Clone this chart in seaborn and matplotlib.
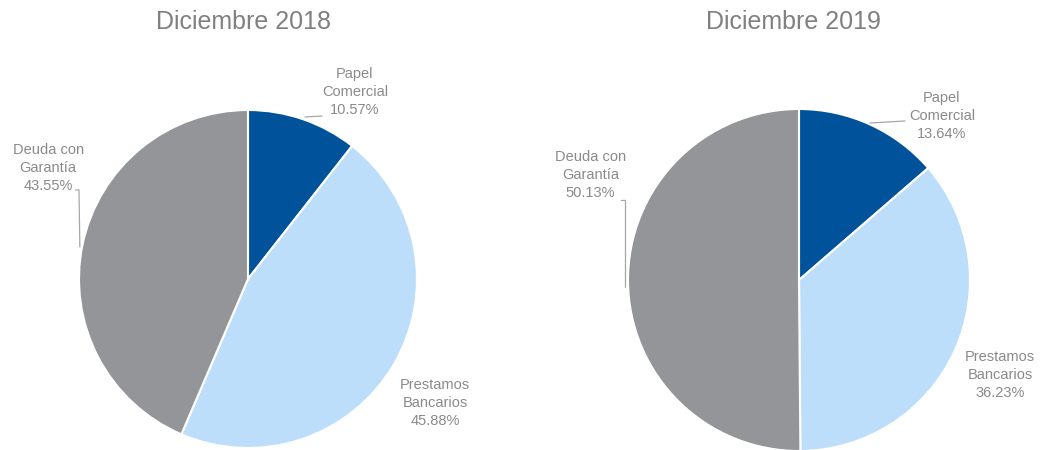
import matplotlib
matplotlib.use("Agg")
import matplotlib.pyplot as plt
import seaborn as sns

# ---- data ----
categories = ["Papel\nComercial", "Prestamos\nBancarios", "Deuda con\nGarantía"]
titles = ["Diciembre 2018", "Diciembre 2019"]
values_2018 = [10.57, 45.88, 43.55]
values_2019 = [13.64, 36.23, 50.13]

sns.set_theme(style="white")
plt.rcParams["font.family"] = ["Liberation Sans", "DejaVu Sans"]

colors = ["#00529B", "#BDDEFB", "#939598"]
text_gray = "#8A8A8A"
title_gray = "#808080"

fig = plt.figure(figsize=(10.4, 4.5), dpi=100)

# axes rects (figure fraction) for each pie
rects = [
    [79 / 1040, (450 - 448) / 450, 338 / 1040, 338 / 450],
    [628 / 1040, (450 - 451) / 450, 342 / 1040, 342 / 450],
]
title_pos = [(243 / 1040, 1 - 22 / 450), (793 / 1040, 1 - 22 / 450)]

# label layout (data coords of each pie axis, radius = 1)
label_xy = [
    [(0.633, 1.107), (1.107, -0.734), (-1.183, 0.657)],
    [(0.836, 0.96), (1.175, -0.556), (-1.22, 0.614)],
]
# leader lines (layout only)
leaders = [
    [
        [(0.337, 0.959), (0.438, 0.964)],
        [(-1.02, 0.527), (-1.0, 0.527), (-0.995, 0.19)],
    ],
    [
        [(0.415, 0.918), (0.62, 0.93)],
        [(-1.04, 0.468), (-1.02, 0.468), (-1.02, -0.04)],
    ],
]

for i, vals in enumerate([values_2018, values_2019]):
    ax = fig.add_axes(rects[i])
    ax.pie(
        vals,
        colors=colors,
        startangle=90,
        counterclock=False,
        radius=1.0,
        wedgeprops=dict(edgecolor="white", linewidth=1.5),
    )
    ax.set_xlim(-1.0, 1.0)
    ax.set_ylim(-1.0, 1.0)
    ax.set_aspect("equal")
    ax.axis("off")
    for (lx, ly), cat, v in zip(label_xy[i], categories, vals):
        ax.text(lx, ly, f"{cat}\n{v:.2f}%", ha="center", va="center",
                fontsize=10.5, color=text_gray, linespacing=1.35,
                clip_on=False)
    for seg in leaders[i]:
        xs, ys = zip(*seg)
        ax.plot(xs, ys, color="#A6A6A6", lw=0.9, clip_on=False)
    fig.text(title_pos[i][0], title_pos[i][1], titles[i], ha="center",
             va="center", fontsize=18, color=title_gray)

fig.savefig("out.png", dpi=100)
